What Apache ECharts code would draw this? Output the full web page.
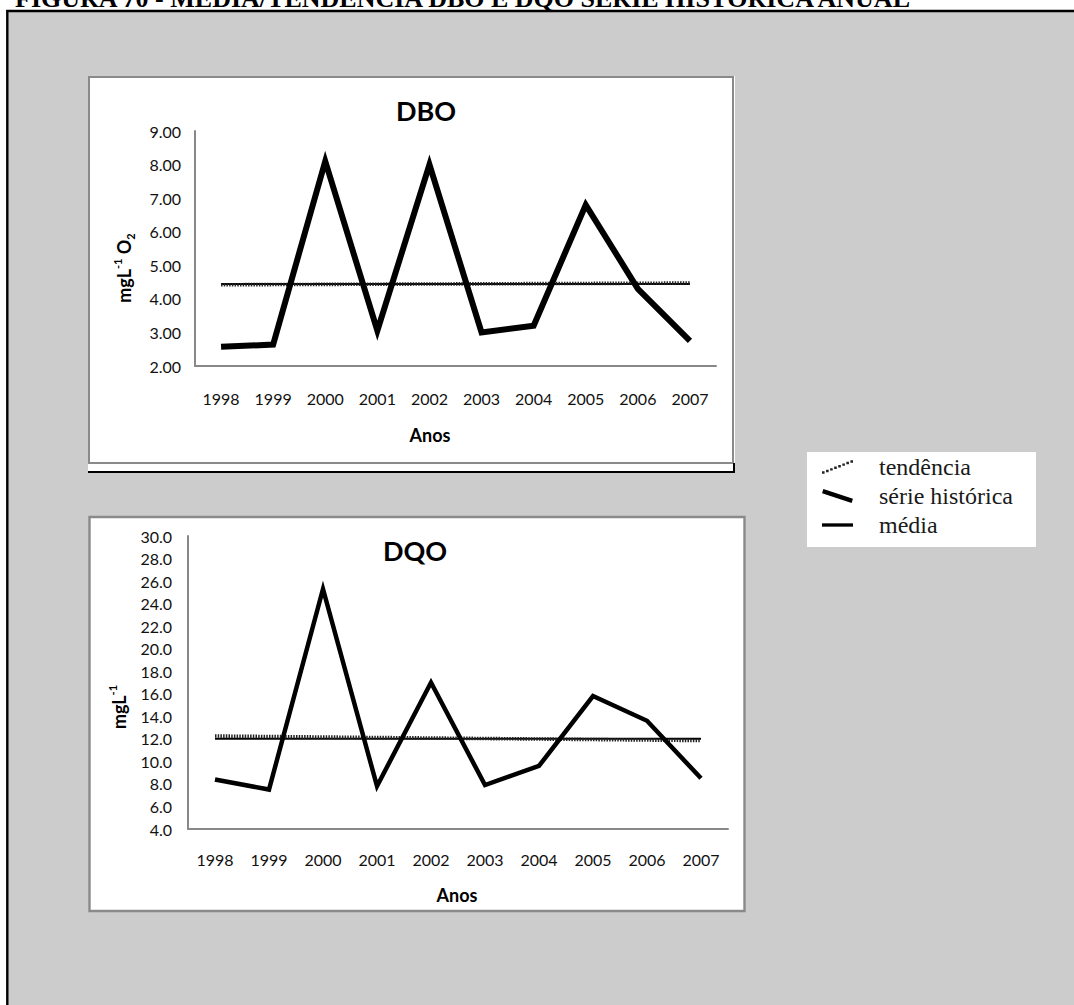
<!DOCTYPE html>
<html>
<head>
<meta charset="utf-8">
<title>DBO e DQO - série histórica anual</title>
<script src="https://cdn.jsdelivr.net/npm/echarts@6/dist/echarts.min.js"></script>
<style>
  html, body { margin: 0; padding: 0; background: #ffffff; }
  #chart { width: 1074px; height: 1005px; }
</style>
</head>
<body>
<div id="chart"></div>
<script>
// Anos da série
const years = ['1998', '1999', '2000', '2001', '2002', '2003', '2004', '2005', '2006', '2007'];

// DBO (mg/L O2)
const dboSerie = [2.57, 2.64, 8.10, 3.05, 8.00, 3.00, 3.20, 6.80, 4.30, 2.75];
const dboMedia = 4.44;
const dboTendencia = [4.42, 4.47];          // início (1998) e fim (2007)
const dboTicks = [2, 3, 4, 5, 6, 7, 8, 9];

// DQO (mg/L)
const dqoSerie = [8.4, 7.5, 25.3, 7.8, 17.0, 7.9, 9.6, 15.8, 13.6, 8.5];
const dqoMedia = 12.0;
const dqoTendencia = [12.25, 11.85];
const dqoTicks = [4, 6, 8, 10, 12, 14, 16, 18, 20, 22, 24, 26, 28, 30];

const names = { trend: 'tendência', serie: 'série histórica', mean: 'média' };

const chart = echarts.init(document.getElementById('chart'), null, { renderer: 'svg' });

// legend glyphs
const dotted = (() => {
  let p = '';
  for (let i = 0; i < 8; i++) {
    const x = i * 4.1, y = 11.5 - i * 1.6;
    p += 'M' + x.toFixed(1) + ',' + y.toFixed(1) + 'h2.6v2.4h-2.6z';
  }
  return 'path://' + p;
})();
const slanted = 'path://M2.6,0.1L29.6,9.1L28.4,12.9L1.4,3.9Z';
const flat = 'path://M0,0H28V3H0Z';

const tickFont = { fontFamily: 'Lato', fontSize: 16, color: '#111' };
const axisGrey = { color: '#888888', width: 2 };

function axisStep(t) { return t[1] - t[0]; }

function seriesFor(idx, serie, media, trend, lw) {
  return [
    {
      name: names.mean, type: 'line', xAxisIndex: idx, yAxisIndex: idx,
      data: [[years[0], media], [years[years.length - 1], media]],
      symbol: 'none', color: '#000', silent: true, z: 2,
      lineStyle: { color: '#000', width: 2 }
    },
    {
      name: names.trend, type: 'line', xAxisIndex: idx, yAxisIndex: idx,
      data: [[years[0], trend[0]], [years[years.length - 1], trend[1]]],
      symbol: 'none', color: '#222', silent: true, z: 3,
      lineStyle: { color: '#222', width: 3.6, type: [1.5, 1.2] }
    },
    {
      name: names.serie, type: 'line', xAxisIndex: idx, yAxisIndex: idx,
      data: serie, symbol: 'none', color: '#000', silent: true, z: 4,
      lineStyle: { color: '#000', width: lw, join: 'miter', miterLimit: 20 }
    }
  ];
}

const boldLato = { fontFamily: 'Lato', fontWeight: 'bold', fill: '#000', align: 'center', verticalAlign: 'middle' };
const nameRich = {
  a: { fontFamily: 'Lato', fontWeight: 'bold', fontSize: 18, lineHeight: 24, fill: '#000' },
  s: { fontFamily: 'Lato', fontWeight: 'bold', fontSize: 11, lineHeight: 13, verticalAlign: 'top', fill: '#000' },
  d: { fontFamily: 'Lato', fontWeight: 'bold', fontSize: 11, lineHeight: 13, verticalAlign: 'bottom', fill: '#000' }
};

chart.setOption({
  animation: false,
  textStyle: { fontFamily: 'Lato' },
  grid: [
    { left: 195, top: 131, width: 521, height: 235, outerBoundsMode: 'none' },
    { left: 188, top: 536, width: 540, height: 293, outerBoundsMode: 'none' }
  ],
  xAxis: [0, 1].map(i => ({
    type: 'category', gridIndex: i, data: years, boundaryGap: true,
    axisLine: { show: true, lineStyle: axisGrey },
    axisTick: { show: false },
    splitLine: { show: false },
    axisLabel: Object.assign({ interval: 0, margin: i === 0 ? 24 : 22 }, tickFont)
  })),
  yAxis: [
    {
      type: 'value', gridIndex: 0,
      min: dboTicks[0], max: dboTicks[dboTicks.length - 1], interval: axisStep(dboTicks),
      axisLine: { show: true, lineStyle: axisGrey },
      axisTick: { show: false }, splitLine: { show: false },
      axisLabel: Object.assign({ margin: 14, formatter: v => v.toFixed(2) }, tickFont)
    },
    {
      type: 'value', gridIndex: 1,
      min: dqoTicks[0], max: dqoTicks[dqoTicks.length - 1], interval: axisStep(dqoTicks),
      axisLine: { show: true, lineStyle: axisGrey },
      axisTick: { show: false }, splitLine: { show: false },
      axisLabel: Object.assign({ margin: 16, formatter: v => v.toFixed(1) }, tickFont)
    }
  ],
  legend: {
    orient: 'vertical', left: 807, top: 452,
    data: [
      { name: names.trend, icon: dotted },
      { name: names.serie, icon: slanted },
      { name: names.mean, icon: flat }
    ],
    itemWidth: 31, itemHeight: 14, itemGap: 3,
    backgroundColor: '#ffffff', padding: [2, 23, 9, 15],
    itemStyle: { borderWidth: 0 },
    selectedMode: false,
    textStyle: { fontFamily: 'Liberation Serif', fontSize: 24, color: '#1a1a1a', lineHeight: 26, padding: [0, 0, 0, 21] }
  },
  series: [].concat(
    seriesFor(0, dboSerie, dboMedia, dboTendencia, 6),
    seriesFor(1, dqoSerie, dqoMedia, dqoTendencia, 4.5)
  ),
  graphic: [
    { type: 'rect', z: -20, silent: true, shape: { x: 0, y: 0, width: 1074, height: 1005 }, style: { fill: '#ffffff' } },
    { type: 'rect', z: -19, silent: true, shape: { x: 7.3, y: 11, width: 1200, height: 1200 }, style: { fill: '#cccccc', stroke: '#000', lineWidth: 2.4 } },
    // DBO panel
    { type: 'rect', z: -18, silent: true, shape: { x: 88, y: 76, width: 647, height: 397 }, style: { fill: '#ffffff' } },
    { type: 'rect', z: -17, silent: true, shape: { x: 89, y: 77, width: 644, height: 386 }, style: { fill: 'none', stroke: '#8a8a8a', lineWidth: 2 } },
    { type: 'line', z: -17, silent: true, shape: { x1: 88, y1: 472, x2: 735, y2: 472 }, style: { stroke: '#000', lineWidth: 2 } },
    { type: 'line', z: -17, silent: true, shape: { x1: 734, y1: 463, x2: 734, y2: 473 }, style: { stroke: '#000', lineWidth: 2 } },
    // DQO panel
    { type: 'rect', z: -18, silent: true, shape: { x: 89.5, y: 517, width: 655, height: 394 }, style: { fill: '#ffffff', stroke: '#8a8a8a', lineWidth: 2.4 } },
    // figure caption, running off the top edge of the page
    { type: 'text', z: 10, silent: true, x: 15, y: -2,
      style: { text: 'FIGURA 70 - MÉDIA/TENDÊNCIA DBO E DQO SÉRIE HISTÓRICA ANUAL', fontFamily: 'Liberation Serif', fontWeight: 'bold', fontSize: 26, fill: '#000', align: 'left', verticalAlign: 'middle' } },
    // chart titles and axis names
    { type: 'text', z: 10, silent: true, x: 426, y: 110, style: Object.assign({ text: 'DBO', fontSize: 27 }, boldLato) },
    { type: 'text', z: 10, silent: true, x: 430, y: 435, style: Object.assign({ text: 'Anos', fontSize: 18 }, boldLato) },
    { type: 'text', z: 10, silent: true, x: 415, y: 550, style: Object.assign({ text: 'DQO', fontSize: 27 }, boldLato) },
    { type: 'text', z: 10, silent: true, x: 457, y: 895, style: Object.assign({ text: 'Anos', fontSize: 18 }, boldLato) },
    { type: 'text', z: 10, silent: true, x: 124, y: 268, rotation: Math.PI / 2,
      style: { text: '{a|mgL}{s|-1}{a| O}{d|2}', align: 'center', verticalAlign: 'middle', rich: nameRich } },
    { type: 'text', z: 10, silent: true, x: 119, y: 707, rotation: Math.PI / 2,
      style: { text: '{a|mgL}{s|-1}', align: 'center', verticalAlign: 'middle', rich: nameRich } }
  ]
});
</script>
</body>
</html>
